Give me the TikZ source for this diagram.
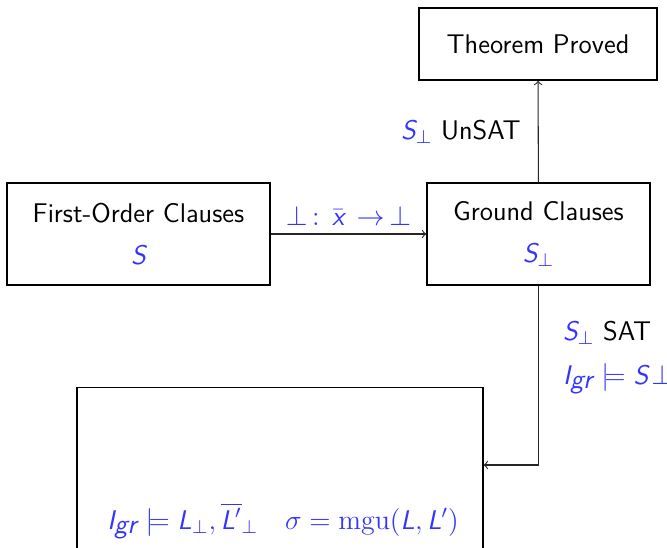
\documentclass[tikz,border=0pt]{standalone}
\usepackage{tikz}
\usepackage{xcolor}
\usepackage{amssymb}
\usetikzlibrary{calc}
\definecolor{mathBlue}{RGB}{52,52,255}
\newcommand{\sv}[1]{\textsf{\itshape #1}}
\newcommand{\Sbot}{\ensuremath{\sv{S}_\perp}}
\newcommand{\Igr}{\ensuremath{\sv{I}_{\sv{gr}}}}

\begin{document}
\begin{tikzpicture}[x=0.0151cm,y=-0.0151cm,
  font=\fontsize{11.6}{14}\selectfont\sffamily,
  box/.style={draw,line width=0.6pt,align=center,inner sep=0pt},
  flow/.style={->,line width=0.45pt,draw=black!85},
  blu/.style={text=mathBlue}]
  \useasboundingbox (0,0) rectangle (667,547);
  % the four boxes
  \node[box,minimum width=3.97cm,minimum height=1.54cm] (fo) at (138.5,234)
    {First-Order Clauses\\[4pt] {\color{mathBlue}$\sv{S}$}};
  \node[box,minimum width=3.37cm,minimum height=1.54cm] (gc) at (538.5,234)
    {Ground Clauses\\[4pt] {\color{mathBlue}\Sbot}};
  \node[box,minimum width=3.59cm,minimum height=1.09cm] (tp) at (538,44)
    {Theorem Proved};
  \node[box,minimum width=6.13cm,minimum height=4.6cm] (rs) at (280,540) {};
  \node[blu] (mgu) at (283,521)
    {$\Igr\models\sv{L}_\perp,\overline{\sv{L}'}_\perp\quad\sigma=\mathrm{mgu}(\sv{L},\sv{L}')$};
  \coordinate (hit) at (rs.east |- 0,465);
  % connectors
  \draw[flow] (fo) -- node[above,blu] {$\perp\,:\,\bar{\sv{x}}\,\rightarrow\,\perp$} (gc);
  \draw[flow] (gc) -- node[left,xshift=-4pt] {{\color{mathBlue}\Sbot} UnSAT} (tp);
  \draw[flow] (gc.south) |- node[pos=0.2,right,align=left,xshift=7pt]
    {{\color{mathBlue}\Sbot} SAT\\[5pt] {\color{mathBlue}$\Igr\models\sv{S}\!\perp$}} (hit);
\end{tikzpicture}
\end{document}
